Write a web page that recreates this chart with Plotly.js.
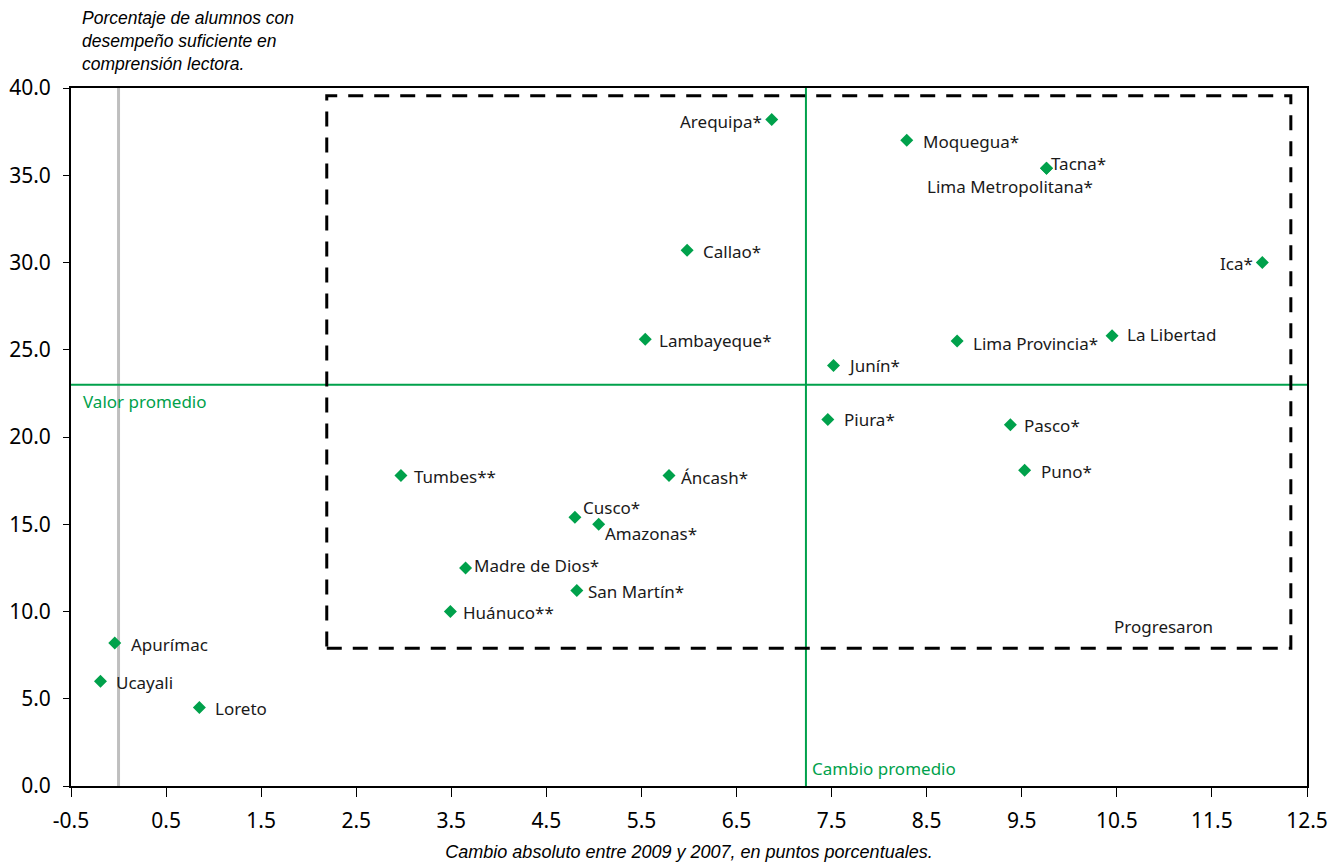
<!DOCTYPE html>
<html>
<head>
<meta charset="utf-8">
<script src="https://cdn.plot.ly/plotly-3.0.1.min.js"></script>
<style>html,body{margin:0;padding:0;background:#fff;}#chart{width:1341px;height:863px;}</style>
</head>
<body>
<div id="chart"></div>
<script>
const regions = ["Arequipa*","Moquegua*","Tacna*","Lima Metropolitana*","Ica*","Callao*","Lambayeque*","Lima Provincia*","La Libertad","Junín*","Piura*","Pasco*","Puno*","Tumbes**","Áncash*","Cusco*","Amazonas*","Madre de Dios*","San Martín*","Huánuco**","Apurímac","Ucayali","Loreto"];
const change = [6.87,8.29,9.76,9.76,12.03,5.98,5.54,8.82,10.45,7.52,7.46,9.38,9.53,2.97,5.79,4.80,5.05,3.65,4.82,3.49,-0.04,-0.19,0.85];
const pct2009 = [38.2,37.0,35.4,35.4,30.0,30.7,25.6,25.5,25.8,24.1,21.0,20.7,18.1,17.8,17.8,15.4,15.0,12.5,11.2,10.0,8.2,6.0,4.5];
const avgChange = 7.23;
const avgPct = 23.0;
const boxX = [2.19, 12.33];
const boxY = [7.9, 39.55];
const xTicks = [-0.5,0.5,1.5,2.5,3.5,4.5,5.5,6.5,7.5,8.5,9.5,10.5,11.5,12.5];
const yTicks = [0,5,10,15,20,25,30,35,40];

// label placement offsets (pixels): [xanchor, xshift, yshift]
const labelPos = {
  "Arequipa*": ["right",-8,-2],
  "Ica*": ["right",-7,-1],
  "Tacna*": ["left",3,5],
  "Lima Metropolitana*": ["center",-36,-18],
  "Cusco*": ["left",6,10],
  "Amazonas*": ["left",4,-9],
  "Madre de Dios*": ["left",6,2],
  "La Libertad": ["left",13,1],
  "Áncash*": ["left",10,-2],
  "Lambayeque*": ["left",12,-1],
  "Lima Provincia*": ["left",14,-2],
  "Pasco*": ["left",12,-1],
  "Piura*": ["left",14,0],
  "Puno*": ["left",14,-1],
  "San Martín*": ["left",9,-1],
  "Huánuco**": ["left",11,-1],
  "Tumbes**": ["left",11,-1],
  "Junín*": ["left",12,0],
  "Apurímac": ["left",14,-2]
};

const green = "#00A14B";
const labelFont = {family:"Noto Sans, Open Sans, sans-serif", size:17, color:"#1a1a1a"};
const tickFont = {family:"Noto Sans, Open Sans, sans-serif", size:21, color:"#000"};

const annotations = regions.map((r,i)=>{
  const p = labelPos[r] || ["left",14,-1];
  return {x:change[i], y:pct2009[i], xref:"x", yref:"y", text:r, showarrow:false,
    xanchor:p[0], yanchor:"middle", xshift:p[1], yshift:p[2], font:labelFont};
});

annotations.push({xref:"paper", yref:"y", x:0.008, y:avgPct, text:"Valor promedio", showarrow:false,
  xanchor:"left", yanchor:"top", yshift:-3, font:{family:"Noto Sans, Open Sans, sans-serif", size:17, color:green}});
annotations.push({xref:"x", yref:"paper", x:avgChange, y:0, text:"Cambio promedio", showarrow:false,
  xanchor:"left", yanchor:"bottom", xshift:4, yshift:4, font:{family:"Noto Sans, Open Sans, sans-serif", size:17, color:green}});
annotations.push({xref:"x", yref:"y", x:boxX[1], y:boxY[0], text:"Progresaron", showarrow:false,
  xanchor:"right", yanchor:"bottom", xshift:-76, yshift:8, font:labelFont});
annotations.push({xref:"paper", yref:"paper", x:0.007, y:1, text:"<i>Porcentaje de alumnos con<br>desempeño suficiente en<br>comprensión lectora.</i>", showarrow:false,
  xanchor:"left", yanchor:"bottom", yshift:12, align:"left", font:{family:"Liberation Sans, Arial, sans-serif", size:17.5, color:"#000"}});

const trace = {
  x: change, y: pct2009, mode:"markers", type:"scatter",
  marker:{symbol:"diamond", size:10, color:green},
  hoverinfo:"text", text: regions
};

const layout = {
  width:1341, height:863,
  margin:{l:71, r:34, t:88, b:77},
  paper_bgcolor:"#fff", plot_bgcolor:"#fff",
  showlegend:false,
  font:{family:"Liberation Sans, Arial, sans-serif", color:"#000"},
  xaxis:{range:[-0.5,12.5], tickvals:xTicks, ticktext:xTicks.map(v=>v.toFixed(1)),
    showgrid:false, zeroline:false, showline:true, linecolor:"#000", linewidth:2, mirror:true,
    ticks:"outside", ticklen:9, tickcolor:"#000", tickwidth:1, ticklabelstandoff:6,
    tickfont:tickFont,
    title:{text:"<i>Cambio absoluto entre 2009 y 2007, en puntos porcentuales.</i>", font:{size:18, family:"Liberation Sans, Arial, sans-serif"}, standoff:12}},
  yaxis:{range:[0,40], tickvals:yTicks, ticktext:yTicks.map(v=>v.toFixed(1)),
    showgrid:false, zeroline:false, showline:true, linecolor:"#000", linewidth:2, mirror:true,
    ticks:"outside", ticklen:6, tickcolor:"#000", tickwidth:1, ticklabelstandoff:8,
    tickfont:tickFont},
  shapes:[
    {type:"line", xref:"x", yref:"paper", x0:0, x1:0, y0:0, y1:1, line:{color:"#bfbfbf", width:3}, layer:"below"},
    {type:"line", xref:"x", yref:"paper", x0:avgChange, x1:avgChange, y0:0, y1:1, line:{color:green, width:2}},
    {type:"line", xref:"paper", yref:"y", x0:0, x1:1, y0:avgPct, y1:avgPct, line:{color:green, width:2}},
    {type:"rect", xref:"x", yref:"y", x0:boxX[0], x1:boxX[1], y0:boxY[0], y1:boxY[1], line:{color:"#000", width:3, dash:"15px,11px"}}
  ],
  annotations: annotations
};

Plotly.newPlot("chart", [trace], layout, {displayModeBar:false, staticPlot:true});
</script>
</body>
</html>
